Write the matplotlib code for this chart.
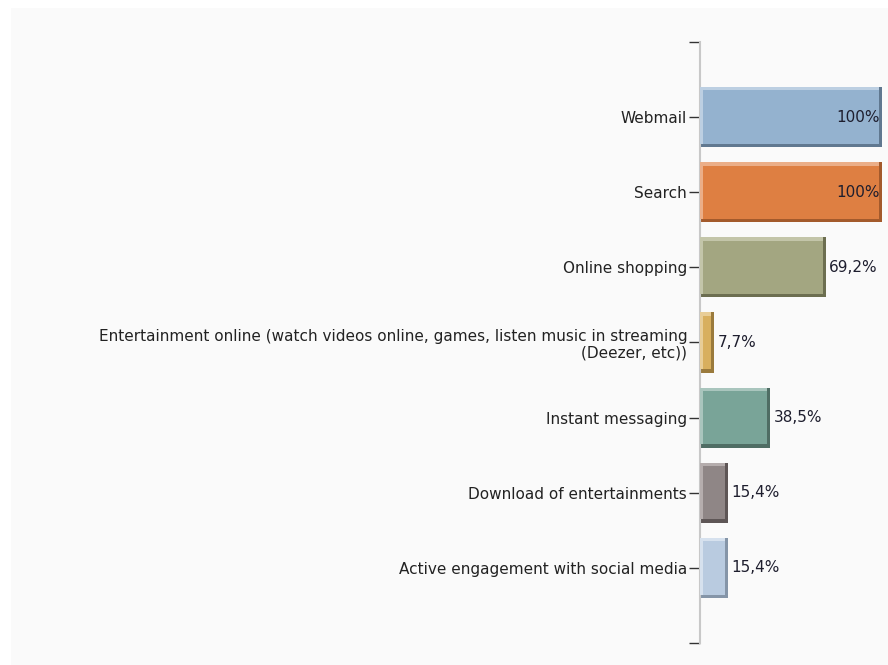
import matplotlib.pyplot as plt
from matplotlib.patches import Rectangle

plt.rcParams['font.family'] = ['DejaVu Sans']

# data
categories = [
    'Webmail',
    'Search',
    'Online shopping',
    'Entertainment online (watch videos online, games, listen music in streaming\n(Deezer, etc))',
    'Instant messaging',
    'Download of entertainments',
    'Active engagement with social media',
]
values = [100, 100, 69.2, 7.7, 38.5, 15.4, 15.4]
value_labels = ['100%', '100%', '69,2%', '7,7%', '38,5%', '15,4%', '15,4%']

# colours: main, light bevel, dark bevel
main_colors = ['#94b2cf', '#de7f42', '#a3a681', '#d8af5e', '#79a498', '#8f8686', '#b9cbe0']
light_colors = ['#bccfe2', '#ebae88', '#c3c5a9', '#e8cd97', '#a9c5bd', '#b5adad', '#d6e1ee']
dark_colors = ['#607890', '#a35a2c', '#6c6e50', '#9a7a3c', '#4f6d64', '#5e5656', '#8595a8']

fig = plt.figure(figsize=(8.88, 6.65), dpi=100, facecolor='white')
# light grey panel with thin white margin on top/left
fig.patches.append(Rectangle((11 / 888, 0), 1, 1 - 8 / 665, transform=fig.transFigure,
                             facecolor='#fafafa', edgecolor='none', zorder=-10))

ax = fig.add_axes([0.788, 0.033, 0.205, 0.904])
ax.set_facecolor('#fafafa')

ypos = list(range(len(categories)))
h = 0.8
dx = 1.6   # bevel width in data units (x)
dy = 0.045  # bevel width in data units (y)

# dark bevel (bottom/right)
ax.barh(ypos, values, height=h, color=dark_colors, zorder=2)
# light bevel (top/left)
ax.barh([y - dy / 2 for y in ypos], [v - dx for v in values], height=h - dy,
        color=light_colors, zorder=3)
# main face
ax.barh(ypos, [v - 2 * dx for v in values], left=dx, height=h - 2 * dy,
        color=main_colors, zorder=4)

for y, v, lab in zip(ypos, values, value_labels):
    if v >= 90:
        ax.text(v - 1, y, lab, ha='right', va='center', fontsize=11,
                color='#1e1e2e', zorder=5)
    else:
        ax.text(v + 2, y, lab, ha='left', va='center', fontsize=11,
                color='#1e1e2e', zorder=5)

ax.set_xlim(0, 100)
ax.set_ylim(len(categories), -1)
ax.set_yticks(ypos)
ax.set_yticklabels(categories, fontsize=11, color='#222222', linespacing=1.15)
ax.set_yticks([-1, len(categories)], minor=True)
ax.tick_params(axis='y', which='both', length=8, width=1, color='#333333', pad=1)
ax.set_xticks([])

for s in ['top', 'right', 'bottom']:
    ax.spines[s].set_visible(False)
ax.spines['left'].set_color('#c8c8c8')
ax.spines['left'].set_linewidth(1.5)

fig.savefig('out.png', dpi=100, facecolor=fig.get_facecolor())
